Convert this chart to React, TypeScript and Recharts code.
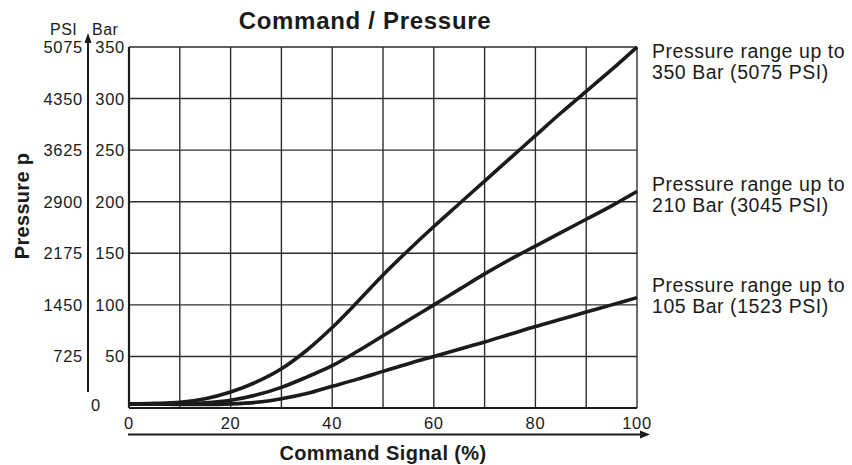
import { CartesianGrid, Line, LineChart, XAxis, YAxis } from 'recharts'

// command signal in %, pressure in bar
const signal = [0, 5, 10, 15, 20, 25, 30, 35, 40, 45, 50, 55, 60, 65, 70, 75, 80, 85, 90, 95, 100]
const range350 = [4, 4.5, 5.5, 9, 15.5, 25, 38, 56, 78, 103, 129, 153, 176, 198, 220, 242, 264, 286, 307, 328, 350]
const range210 = [4, 4, 4, 5, 7.5, 12.5, 20, 30, 41, 55, 70, 85, 100, 115, 130, 144, 157, 170, 183, 196, 210]
const range105 = [4, 4, 3.5, 3.5, 4, 5.5, 9, 14, 21, 28, 35.5, 43, 50, 57, 64, 71.5, 79, 86, 93, 100, 107]

const xTicks = [0, 10, 20, 30, 40, 50, 60, 70, 80, 90, 100]
const barTicks = [0, 50, 100, 150, 200, 250, 300, 350]
const psiLabels = ['0', '725', '1450', '2175', '2900', '3625', '4350', '5075']

const rangeLabels = [
  ['Pressure range up to', '350 Bar (5075 PSI)'],
  ['Pressure range up to', '210 Bar (3045 PSI)'],
  ['Pressure range up to', '105 Bar (1523 PSI)'],
]

const data = signal.map((s, i) => ({
  signal: s,
  p350: range350[i],
  p210: range210[i],
  p105: range105[i],
}))

const FONT = '"Liberation Sans", Arial, Helvetica, sans-serif'
const INK = '#1b1b1b'
const GRID = '#2e2e2e'

function BarTick(props: any) {
  const { y, payload } = props
  const v = payload.value as number
  if (v === 0) {
    return (
      <text x={95.5} y={y + 3} textAnchor="middle" fontSize={16.5} fill={INK} fontFamily={FONT}>
        0
      </text>
    )
  }
  const psi = psiLabels[barTicks.indexOf(v)]
  return (
    <g fontFamily={FONT} fontSize={16.5} fill={INK} letterSpacing={0.7}>
      <text x={83} y={y + 6} textAnchor="end">{psi}</text>
      <text x={125} y={y + 6} textAnchor="end">{v}</text>
    </g>
  )
}

function SignalTick(props: any) {
  const { x, y, payload } = props
  const v = payload.value as number
  if (v % 20 !== 0) return <g />
  return (
    <text x={x} y={y + 13} textAnchor="middle" fontSize={16.5} letterSpacing={0.7} fill={INK} fontFamily={FONT}>
      {v}
    </text>
  )
}

export default function App() {
  return (
    <div style={{ position: 'fixed', left: 0, top: 0, width: 852, height: 465, background: '#fff' }}>
      <LineChart
        width={852}
        height={465}
        data={data}
        margin={{ top: 47, right: 215, left: 0, bottom: 0 }}
      >
        <CartesianGrid stroke={GRID} strokeWidth={1.4} />
        <XAxis
          dataKey="signal"
          type="number"
          domain={[0, 100]}
          ticks={xTicks}
          interval={0}
          height={57}
          tickLine={false}
          axisLine={{ stroke: INK, strokeWidth: 2.2 }}
          tick={<SignalTick />}
        />
        <YAxis
          type="number"
          domain={[0, 350]}
          ticks={barTicks}
          interval={0}
          width={129}
          tickLine={false}
          axisLine={{ stroke: INK, strokeWidth: 2.2 }}
          tick={<BarTick />}
        />
        <Line type="monotone" dataKey="p350" stroke={INK} strokeWidth={3.6} dot={false} isAnimationActive={false} />
        <Line type="monotone" dataKey="p210" stroke={INK} strokeWidth={3.6} dot={false} isAnimationActive={false} />
        <Line type="monotone" dataKey="p105" stroke={INK} strokeWidth={3.6} dot={false} isAnimationActive={false} />
      </LineChart>

      <svg
        width={852}
        height={465}
        style={{ position: 'absolute', left: 0, top: 0, pointerEvents: 'none' }}
        fontFamily={FONT}
        fill={INK}
      >
        <text x={365} y={28.5} textAnchor="middle" fontSize={24} fontWeight="bold" letterSpacing={0.7}>
          Command / Pressure
        </text>

        {/* pressure axis arrow + headers */}
        <text x={50} y={34.5} fontSize={16} letterSpacing={0.5}>PSI</text>
        <text x={92} y={34.5} fontSize={16} letterSpacing={0.5}>Bar</text>
        <line x1={88} y1={392} x2={88} y2={40} stroke={INK} strokeWidth={2} />
        <polygon points="88,33 84.5,43 91.5,43" fill={INK} />
        <text
          transform="translate(29 206) rotate(-90)"
          textAnchor="middle"
          fontSize={20}
          fontWeight="bold"
          letterSpacing={0.3}
        >
          Pressure p
        </text>

        {/* signal axis arrow */}
        <line x1={128} y1={434.5} x2={642} y2={434.5} stroke={INK} strokeWidth={2} />
        <polygon points="650,434.5 640,430.5 640,438.5" fill={INK} />
        <text x={383} y={460} textAnchor="middle" fontSize={20} fontWeight="bold" letterSpacing={0.4}>
          Command Signal (%)
        </text>

        {rangeLabels.map(([a, b], i) => {
          const base = [58, 190.7, 291.7][i]
          return (
            <g key={b} fontSize={19.5} letterSpacing={0.55}>
              <text x={652} y={base}>{a}</text>
              <text x={652} y={base + 21}>{b}</text>
            </g>
          )
        })}
      </svg>
    </div>
  )
}
